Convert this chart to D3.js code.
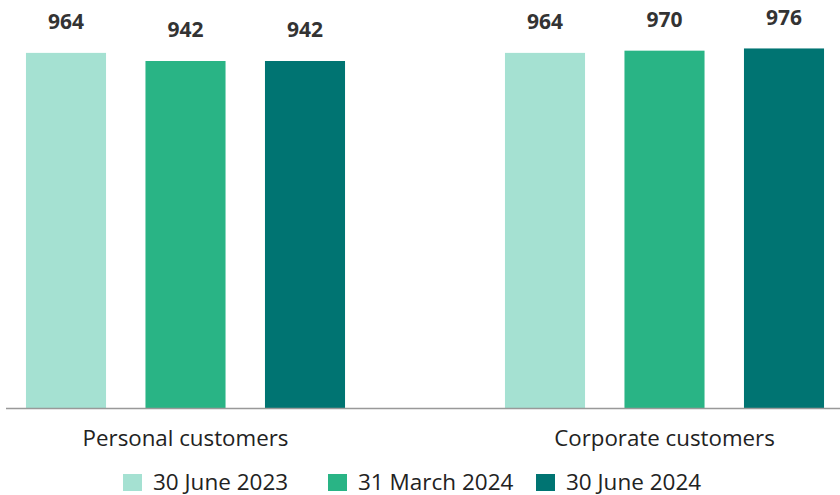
<!DOCTYPE html>
<html>
<head>
<meta charset="utf-8">
<script src="https://cdn.jsdelivr.net/npm/d3@7"></script>
<style>
  body { margin: 0; background: #fff; }
  text { font-family: "Open Sans", "Noto Sans", sans-serif; }
</style>
</head>
<body>
<div id="viz"></div>
<script>
const categories = ["Personal customers", "Corporate customers"];
const seriesNames = ["30 June 2023", "31 March 2024", "30 June 2024"];
const personalValues = [964, 942, 942];
const corporateValues = [964, 970, 976];
const colors = ["#a5e1d2", "#29b485", "#007472"];

const width = 840;
const height = 495;

const data = categories.map((c, i) => ({
  category: c,
  values: (i === 0 ? personalValues : corporateValues).map((v, j) => ({ series: seriesNames[j], value: v }))
}));

const svg = d3.select("#viz")
  .append("svg")
  .attr("width", width)
  .attr("height", height);

const x0 = d3.scaleBand().domain(categories).range([-54, 904]);
const x1 = d3.scaleBand().domain(seriesNames).range([60.25, 418.75])
  .paddingInner(0.33).paddingOuter(0.165);
const y = d3.scaleLinear().domain([0, 1000]).range([408.5, 39.6]);
const color = d3.scaleOrdinal().domain(seriesNames).range(colors);

const groups = svg.selectAll(".grp")
  .data(data)
  .enter().append("g")
  .attr("class", "grp")
  .attr("transform", d => "translate(" + x0(d.category) + ",0)");

groups.selectAll("rect")
  .data(d => d.values)
  .enter().append("rect")
  .attr("x", d => x1(d.series))
  .attr("y", d => y(d.value))
  .attr("width", x1.bandwidth())
  .attr("height", d => y(0) - y(d.value))
  .attr("fill", d => color(d.series));

groups.selectAll(".val")
  .data(d => d.values)
  .enter().append("text")
  .attr("class", "val")
  .attr("x", d => x1(d.series) + x1.bandwidth() / 2)
  .attr("y", d => y(d.value) - 23.5)
  .attr("text-anchor", "middle")
  .attr("font-size", 21)
  .attr("font-weight", "bold")
  .attr("fill", "#333")
  .text(d => d.value);

// axis line
svg.append("line")
  .attr("x1", 6).attr("x2", width)
  .attr("y1", y(0)).attr("y2", y(0))
  .attr("stroke", "#999").attr("stroke-width", 1.5);

svg.selectAll(".cat")
  .data(categories)
  .enter().append("text")
  .attr("class", "cat")
  .attr("x", d => x0(d) + x0.bandwidth() / 2)
  .attr("y", 446)
  .attr("text-anchor", "middle")
  .attr("font-size", 22.3)
  .attr("fill", "#222")
  .text(d => d);

// legend
const legendX = [123, 328, 536];
const legend = svg.selectAll(".leg")
  .data(seriesNames)
  .enter().append("g")
  .attr("class", "leg")
  .attr("transform", (d, i) => "translate(" + legendX[i] + ",474)");

legend.append("rect")
  .attr("width", 19).attr("height", 17)
  .attr("fill", d => color(d));

legend.append("text")
  .attr("x", 30).attr("y", 15.5)
  .attr("font-size", 22.5)
  .attr("fill", "#222")
  .text(d => d);
</script>
</body>
</html>
